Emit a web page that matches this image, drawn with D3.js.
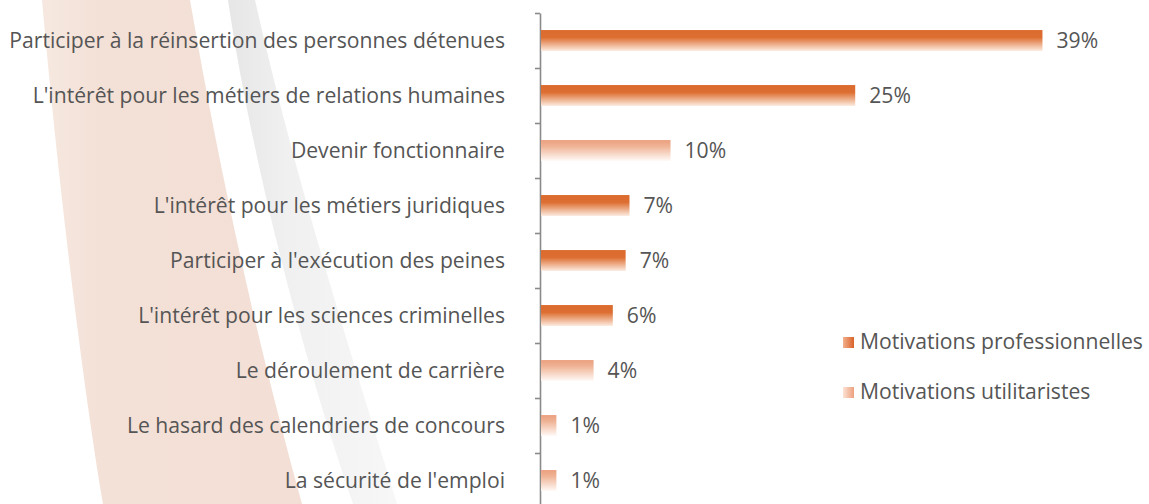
<!DOCTYPE html>
<html>
<head>
<meta charset="utf-8">
<script src="https://cdn.jsdelivr.net/npm/d3@7"></script>
<style>
  html, body { margin: 0; padding: 0; background: #fff; }
  svg { display: block; font-family: "Open Sans", Lato, sans-serif; }
</style>
</head>
<body>
<svg id="drawing_region"></svg>
<script>
// data
const categories = [
    "Participer à la réinsertion des personnes détenues",
    "L'intérêt pour les métiers de relations humaines",
    "Devenir fonctionnaire",
    "L'intérêt pour les métiers juridiques",
    "Participer à l'exécution des peines",
    "L'intérêt pour les sciences criminelles",
    "Le déroulement de carrière",
    "Le hasard des calendriers de concours",
    "La sécurité de l'emploi"
];
const values = [39.1, 24.5, 10.1, 6.9, 6.6, 5.6, 4.1, 1.2, 1.2];
const types = ["pro", "pro", "util", "pro", "pro", "pro", "util", "util", "util"];
const seriesNames = ["Motivations professionnelles", "Motivations utilitaristes"];
const seriesKeys = ["pro", "util"];

const data = categories.map((c, i) => ({label: c, value: values[i], type: types[i]}));

const width = 1149, height = 504;
const axisX = 540;

const svg = d3.select('#drawing_region')
    .attr('width', width)
    .attr('height', height);

// pick a font size so the longest label is about as wide as in the original
const probe = svg.append('text').attr('font-size', '19px').text(categories[0]);
const fontSize = 19 * 496 / probe.node().getComputedTextLength();
probe.remove();

const defs = svg.append('defs');

// bar gradients (vertical fade to white)
const gradPro = defs.append('linearGradient').attr('id', 'g_pro')
    .attr('x1', 0).attr('y1', 0).attr('x2', 0).attr('y2', 1);
gradPro.append('stop').attr('offset', '0%').attr('stop-color', '#db6a2d');
gradPro.append('stop').attr('offset', '35%').attr('stop-color', '#dd6e31');
gradPro.append('stop').attr('offset', '100%').attr('stop-color', '#fcebe0');

const gradUtil = defs.append('linearGradient').attr('id', 'g_util')
    .attr('x1', 0).attr('y1', 0).attr('x2', 0).attr('y2', 1);
gradUtil.append('stop').attr('offset', '0%').attr('stop-color', '#eba07f');
gradUtil.append('stop').attr('offset', '30%').attr('stop-color', '#efb395');
gradUtil.append('stop').attr('offset', '100%').attr('stop-color', '#fffaf7');

// legend gradients (horizontal)
const legPro = defs.append('linearGradient').attr('id', 'l_pro');
legPro.append('stop').attr('offset', '0%').attr('stop-color', '#f3b08c');
legPro.append('stop').attr('offset', '100%').attr('stop-color', '#d9622a');
const legUtil = defs.append('linearGradient').attr('id', 'l_util');
legUtil.append('stop').attr('offset', '0%').attr('stop-color', '#fbe3d5');
legUtil.append('stop').attr('offset', '100%').attr('stop-color', '#eda07c');

// background swooshes
const beige = defs.append('linearGradient').attr('id', 'g_beige');
beige.append('stop').attr('offset', '0%').attr('stop-color', '#f6e8e0');
beige.append('stop').attr('offset', '25%').attr('stop-color', '#f3e0d6');
beige.append('stop').attr('offset', '100%').attr('stop-color', '#f3dfd5');
const grey = defs.append('linearGradient').attr('id', 'g_grey');
grey.append('stop').attr('offset', '0%').attr('stop-color', '#e6e6e6');
grey.append('stop').attr('offset', '35%').attr('stop-color', '#f0f0f0');
grey.append('stop').attr('offset', '100%').attr('stop-color', '#f7f7f7');

svg.append('path')
    .attr('d', 'M42,0 C58,180 82,380 103,504 L302,504 C268,380 228,220 190,0 Z')
    .attr('fill', 'url(#g_beige)');
svg.append('path')
    .attr('d', 'M228,0 C250,150 300,350 353,504 L397,504 C360,380 300,200 255,0 Z')
    .attr('fill', 'url(#g_grey)');

// scales
const xscale = d3.scaleLinear()
    .domain([0, 40])
    .range([axisX + 1, axisX + 1 + 513]);

const yscale = d3.scaleBand()
    .domain(categories)
    .range([13, 13 + 55 * categories.length])
    .paddingInner(0.62)
    .paddingOuter(0.31);

// axis with ticks between bands
const tickScale = d3.scaleLinear()
    .domain([0, categories.length])
    .range([13, 13 + 55 * categories.length]);

const yaxis = d3.axisLeft(tickScale)
    .tickValues(d3.range(0, categories.length + 1))
    .tickSize(5)
    .tickSizeOuter(0)
    .tickFormat('');

const axisG = svg.append('g')
    .attr('transform', `translate(${axisX},0)`)
    .call(yaxis);
axisG.selectAll('path, line')
    .attr('stroke', '#8a8a8a')
    .attr('stroke-width', 1.6);

// bars
svg.append('g').selectAll('rect')
    .data(data)
    .enter()
    .append('rect')
    .attr('x', xscale(0))
    .attr('y', d => yscale(d.label))
    .attr('width', d => xscale(d.value) - xscale(0))
    .attr('height', yscale.bandwidth())
    .attr('fill', d => d.type === 'pro' ? 'url(#g_pro)' : 'url(#g_util)');

// category labels
svg.append('g').selectAll('text')
    .data(data)
    .enter()
    .append('text')
    .attr('x', 505)
    .attr('y', d => yscale(d.label) + yscale.bandwidth() / 2)
    .attr('dy', '0.35em')
    .attr('text-anchor', 'end')
    .attr('font-size', fontSize + 'px')
    .attr('fill', '#555')
    .text(d => d.label);

// value labels
svg.append('g').selectAll('text')
    .data(data)
    .enter()
    .append('text')
    .attr('x', d => xscale(d.value) + 14)
    .attr('y', d => yscale(d.label) + yscale.bandwidth() / 2)
    .attr('dy', '0.35em')
    .attr('font-size', fontSize + 'px')
    .attr('fill', '#555')
    .text(d => Math.round(d.value) + '%');

// legend
const legend = svg.append('g');
seriesKeys.forEach((k, i) => {
    const y = 342 + i * 50;
    legend.append('rect')
        .attr('x', 843).attr('y', y - 5)
        .attr('width', 11).attr('height', 11)
        .attr('fill', `url(#l_${k})`);
    legend.append('text')
        .attr('x', 860).attr('y', y)
        .attr('dy', '0.35em')
        .attr('font-size', fontSize + 'px')
        .attr('fill', '#555')
        .text(seriesNames[i]);
});
</script>
</body>
</html>
